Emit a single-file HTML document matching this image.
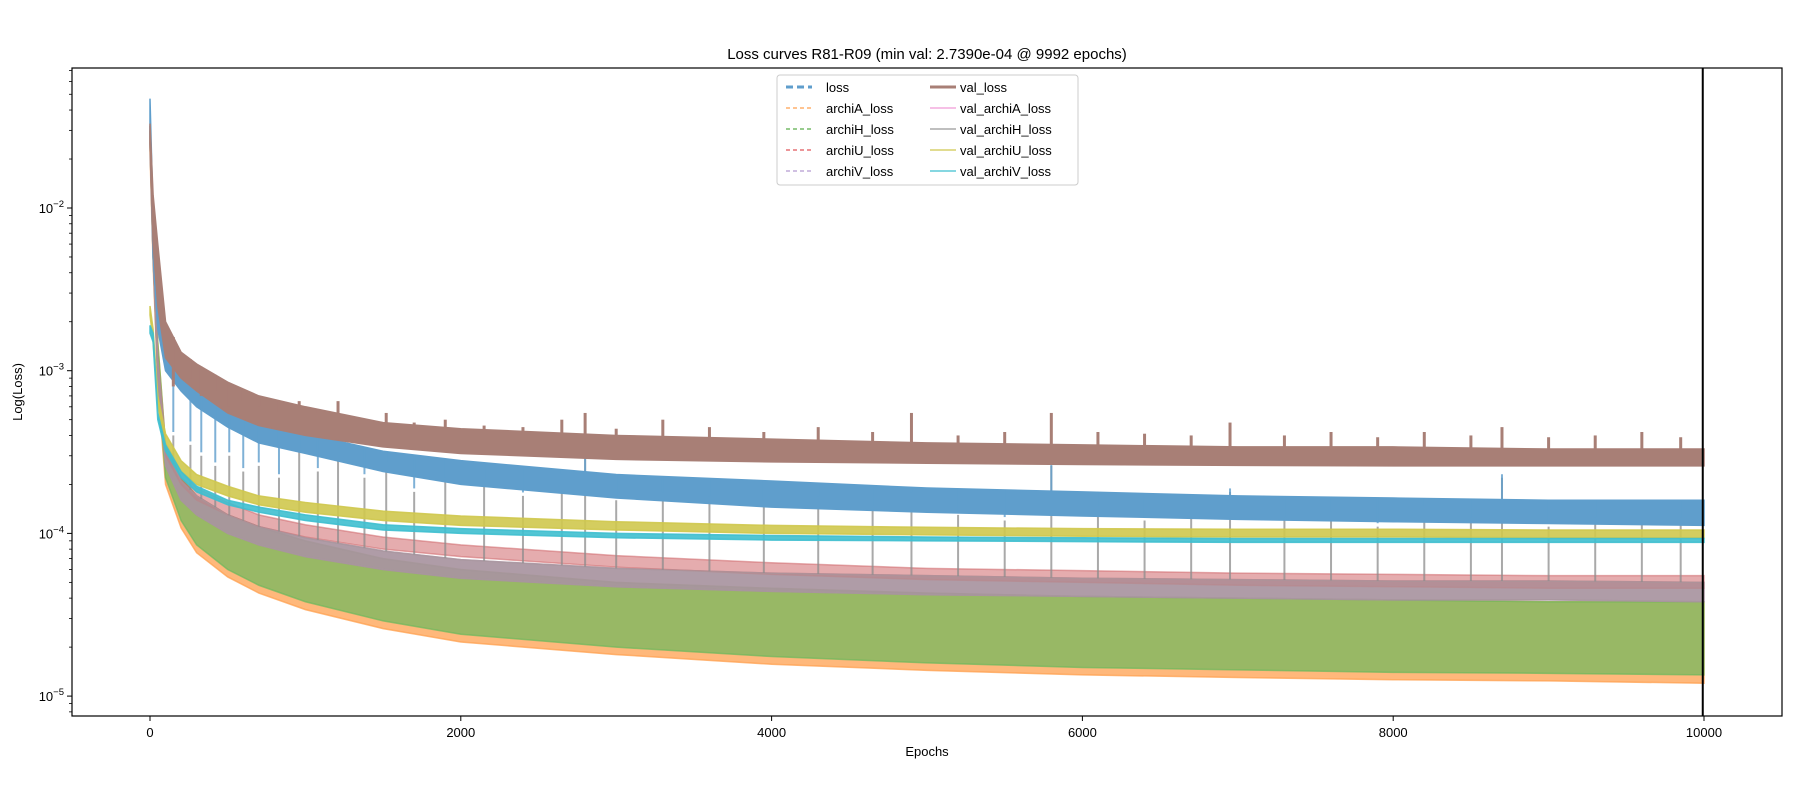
<!DOCTYPE html>
<html><head><meta charset="utf-8"><style>
html,body{margin:0;padding:0;background:#fff;}
svg{display:block;font-family:"Liberation Sans","DejaVu Sans",sans-serif;}
</style></head><body>
<svg id="chart" width="1800" height="800" viewBox="0 0 1800 800"></svg>
<script>
const epochs=[0,20,50,100,200,300,500,700,1000,1500,2000,3000,4000,5000,6000,7000,8000,9000,10000];
const lossLo=[3e-2,5e-3,1.8e-3,1e-3,7.5e-4,6e-4,4.5e-4,3.6e-4,3.1e-4,2.4e-4,2e-4,1.65e-4,1.45e-4,1.35e-4,1.28e-4,1.22e-4,1.18e-4,1.15e-4,1.12e-4];
const lossHi=[4.7e-2,9e-3,3e-3,1.3e-3,9e-4,7.5e-4,5.8e-4,4.8e-4,4.1e-4,3.2e-4,2.8e-4,2.3e-4,2.1e-4,1.9e-4,1.8e-4,1.7e-4,1.65e-4,1.6e-4,1.6e-4];
const valLossLo=[2.5e-2,6e-3,2.5e-3,1.2e-3,9e-4,7.5e-4,5.5e-4,4.6e-4,4e-4,3.4e-4,3.1e-4,2.85e-4,2.75e-4,2.7e-4,2.65e-4,2.62e-4,2.6e-4,2.6e-4,2.6e-4];
const valLossHi=[3.3e-2,1.2e-2,6e-3,2e-3,1.3e-3,1.1e-3,8.5e-4,7e-4,6e-4,4.8e-4,4.4e-4,4e-4,3.8e-4,3.6e-4,3.5e-4,3.4e-4,3.4e-4,3.3e-4,3.3e-4];
const valULo=[2.2e-3,1.5e-3,6e-4,3.5e-4,2.4e-4,2e-4,1.7e-4,1.5e-4,1.35e-4,1.2e-4,1.12e-4,1.05e-4,1.0e-4,9.8e-5,9.6e-5,9.5e-5,9.5e-5,9.4e-5,9.4e-5];
const valUHi=[2.5e-3,1.8e-3,7e-4,4.1e-4,2.8e-4,2.3e-4,1.95e-4,1.7e-4,1.55e-4,1.37e-4,1.28e-4,1.18e-4,1.12e-4,1.09e-4,1.07e-4,1.06e-4,1.06e-4,1.05e-4,1.05e-4];
const valVLo=[1.7e-3,1.5e-3,5e-4,3.2e-4,2.2e-4,1.8e-4,1.5e-4,1.35e-4,1.2e-4,1.05e-4,1e-4,9.4e-5,9.1e-5,9e-5,8.9e-5,8.8e-5,8.8e-5,8.8e-5,8.8e-5];
const valVHi=[1.9e-3,1.7e-3,5.5e-4,3.5e-4,2.4e-4,1.95e-4,1.6e-4,1.45e-4,1.3e-4,1.13e-4,1.07e-4,1e-4,9.7e-5,9.5e-5,9.4e-5,9.3e-5,9.3e-5,9.3e-5,9.3e-5];
const archiULo=[2.5e-2,5e-3,1e-3,3e-4,2e-4,1.6e-4,1.3e-4,1.1e-4,9.5e-5,8e-5,7.2e-5,6.2e-5,5.6e-5,5.2e-5,5e-5,4.8e-5,4.7e-5,4.6e-5,4.6e-5];
const archiUHi=[3e-2,6e-3,1.2e-3,3.6e-4,2.4e-4,1.9e-4,1.55e-4,1.3e-4,1.13e-4,9.5e-5,8.5e-5,7.3e-5,6.6e-5,6.1e-5,5.9e-5,5.7e-5,5.6e-5,5.5e-5,5.5e-5];
const midLo=[2.5e-2,5e-3,9e-4,2.6e-4,1.6e-4,1.3e-4,1e-4,8.5e-5,7.2e-5,6e-5,5.3e-5,4.7e-5,4.4e-5,4.2e-5,4.1e-5,4e-5,3.9e-5,3.9e-5,3.8e-5];
const midHi=[3.2e-2,6.5e-3,1.2e-3,3.4e-4,2.1e-4,1.7e-4,1.3e-4,1.1e-4,9.4e-5,7.8e-5,6.9e-5,6.1e-5,5.7e-5,5.5e-5,5.3e-5,5.2e-5,5.1e-5,5.1e-5,5e-5];
const greenLo=[2.5e-2,5e-3,9e-4,2.2e-4,1.2e-4,8.5e-5,6e-5,4.8e-5,3.8e-5,2.9e-5,2.4e-5,2e-5,1.75e-5,1.6e-5,1.5e-5,1.45e-5,1.4e-5,1.38e-5,1.35e-5];
const greenHi=[3e-2,7e-3,1.5e-3,3.5e-4,2.2e-4,1.7e-4,1.3e-4,1.1e-4,9e-5,7e-5,6e-5,5e-5,4.6e-5,4.3e-5,4.1e-5,4e-5,3.9e-5,3.8e-5,3.8e-5];
const orangeLo=[2.2e-2,4.5e-3,8e-4,2e-4,1.08e-4,7.6e-5,5.4e-5,4.3e-5,3.4e-5,2.6e-5,2.15e-5,1.8e-5,1.57e-5,1.44e-5,1.35e-5,1.3e-5,1.26e-5,1.24e-5,1.2e-5];
const spikeEpochs=[150,260,330,420,510,600,700,830,960,1080,1210,1380,1520,1700,1900,2150,2400,2650,2800,3000,3300,3600,3950,4300,4650,4900,5200,5500,5800,6100,6400,6700,6950,7300,7600,7900,8200,8500,8700,9000,9300,9600,9850];
const spikeVals=[4e-4,3.5e-4,3e-4,2.6e-4,3e-4,2.4e-4,2.6e-4,2.2e-4,3.2e-4,2.4e-4,3.5e-4,2.2e-4,2.6e-4,1.8e-4,2.1e-4,2e-4,1.7e-4,2.2e-4,3e-4,1.6e-4,1.7e-4,1.6e-4,1.5e-4,1.6e-4,1.4e-4,1.7e-4,1.3e-4,1.2e-4,2.6e-4,1.4e-4,1.2e-4,1.5e-4,1.8e-4,1.2e-4,1.3e-4,1.1e-4,1.4e-4,1.2e-4,2.2e-4,1.1e-4,1.2e-4,1.5e-4,1.2e-4];
const valSpikeVals=[8e-4,9e-4,7e-4,7.5e-4,6e-4,6.5e-4,6e-4,5.5e-4,6.5e-4,5.5e-4,6.5e-4,5e-4,5.5e-4,4.8e-4,5e-4,4.6e-4,4.5e-4,5e-4,5.5e-4,4.4e-4,5e-4,4.5e-4,4.2e-4,4.5e-4,4.2e-4,5.5e-4,4e-4,4.2e-4,5.5e-4,4.2e-4,4.1e-4,4e-4,4.8e-4,4e-4,4.2e-4,3.9e-4,4.2e-4,4e-4,4.5e-4,3.9e-4,4e-4,4.2e-4,3.9e-4];
const xTicks=[0,2000,4000,6000,8000,10000];
const yTicks=[-5,-4,-3,-2];

const svg=document.getElementById('chart');
const NS='http://www.w3.org/2000/svg';
const L=72,R=1782,T=68,B=716;
const X=v=>150+(v/10000)*1554;
const Y=v=>208-(Math.log10(v)+2)*162.7;
function el(t,a,p){const e=document.createElementNS(NS,t);for(const k in a)e.setAttribute(k,a[k]);(p||svg).appendChild(e);return e;}

const clip=el('clipPath',{id:'pc'});el('rect',{x:L,y:T,width:R-L,height:B-T},clip);
const plot=el('g',{'clip-path':'url(#pc)'});



function band(lo,hi,color,op,name){
  let d='M'+epochs.map((e,i)=>X(e)+','+Y(hi[i])).join(' L');
  d+=' L'+epochs.map((e,i)=>X(e)+','+Y(lo[i])).reverse().join(' L')+'Z';
  const p=el('path',{d:d,fill:color,'fill-opacity':op,stroke:color,'stroke-opacity':op,'stroke-width':1.5},plot);
  
  
}
function spikes(vals,base,color,w,op,name){
  const g=el('g',{},plot);
  
  
  spikeEpochs.forEach((e,i)=>{
    let j=0;while(j<epochs.length-1&&epochs[j+1]<=e)j++;
    const t=(e-epochs[j])/(epochs[j+1]-epochs[j]);
    const b=Math.exp(Math.log(base[j])*(1-t)+Math.log(base[j+1])*t);
    el('line',{x1:X(e),x2:X(e),y1:Y(b),y2:Y(vals[i]),stroke:color,'stroke-width':w,'stroke-opacity':op},g);
  });
}
band(orangeLo,greenHi,'#ffa04f',0.75,'archiA-loss-series');
band(greenLo,greenHi,'#6cb85c',0.7,'archiH-loss-series');
band(midLo,midHi,'#a98aa3',0.8,'archiV-loss-series');
band(archiULo,archiUHi,'#d0686c',0.55,'archiU-loss-series');
band(midLo,midHi,'#a99a9f',0.6,'val-archiA-loss-series');
spikes(spikeVals,midHi,'#8c8c8c',2,0.75,'val-archiH-loss-series');
band(lossLo,lossHi,'#5f9ecc',1,'loss-series');
spikes(spikeVals.map(v=>v*1.05),lossHi,'#5f9ecc',2,0.8,'loss-spikes');
band(valLossLo,valLossHi,'#a87f76',1,'val-loss-series');
spikes(valSpikeVals,valLossHi,'#a87f76',3,1,'val-loss-spikes');
band(valULo,valUHi,'#cfc84e',0.9,'val-archiU-loss-series');
band(valVLo,valVHi,'#3fbfcf',0.9,'val-archiV-loss-series');
const vl=el('line',{x1:X(9992),x2:X(9992),y1:T,y2:B,stroke:'#000','stroke-width':2});



const frame=el('rect',{x:L,y:T,width:R-L,height:B-T,fill:'none',stroke:'#000','stroke-width':1.2});



xTicks.forEach(v=>{
  el('line',{x1:X(v),x2:X(v),y1:B,y2:B+5,stroke:'#000'});
  const t=el('text',{x:X(v),y:B+21,'text-anchor':'middle','font-size':13});t.textContent=v;
  
  
});
yTicks.forEach(p=>{
  el('line',{x1:L-5,x2:L,y1:Y(Math.pow(10,p)),y2:Y(Math.pow(10,p)),stroke:'#000'});
  const t=el('text',{x:L-8,y:Y(Math.pow(10,p))+5,'text-anchor':'end','font-size':13});
  t.innerHTML='10<tspan dy="-6" font-size="9.5">\u2212'+(-p)+'</tspan>';
  
  
  for(let m=2;m<10;m++){const v=m*Math.pow(10,p);const y=Y(v);if(y>T&&y<B)el('line',{x1:L-3,x2:L,y1:y,y2:y,stroke:'#000','stroke-width':0.8});}
});
for(let m=8;m<10;m++){el('line',{x1:L-3,x2:L,y1:Y(m*1e-6),y2:Y(m*1e-6),stroke:'#000','stroke-width':0.8});}

const title=el('text',{x:927,y:59,'text-anchor':'middle','font-size':15});
title.textContent='Loss curves R81-R09 (min val: 2.7390e-04 @ 9992 epochs)';


const xl=el('text',{x:927,y:756,'text-anchor':'middle','font-size':13});xl.textContent='Epochs';


const yl=el('text',{x:22,y:392,'text-anchor':'middle','font-size':13,transform:'rotate(-90 22 392)'});yl.textContent='Log(Loss)';



const names=['loss','archiA_loss','archiH_loss','archiU_loss','archiV_loss','val_loss','val_archiA_loss','val_archiH_loss','val_archiU_loss','val_archiV_loss'];
const cols=['#5f9ecc','#ffa04f','#5aae4a','#e0565a','#b49ad0','#a87f76','#f09ad8','#999','#cfc84e','#3fbfcf'];
const lg=el('g',{});


el('rect',{x:777,y:75,width:301,height:110,rx:3,fill:'#fff','fill-opacity':0.85,stroke:'#ccc'},lg);
names.forEach((n,i)=>{
  const c=Math.floor(i/5),r=i%5;const x=c?926:782,y=87+r*21;
  const ln=el('line',{x1:x+4,x2:x+30,y1:y,y2:y,stroke:cols[i],'stroke-width':(i==0||i==5)?3:1.3,'stroke-dasharray':c?'none':(i==0?'7 4':'4 3')},lg);
  
  
  const t=el('text',{x:x+ (c?12+22:44),y:y+5,'font-size':13},lg);t.textContent=n;
  
  
});
</script>
</body></html>
